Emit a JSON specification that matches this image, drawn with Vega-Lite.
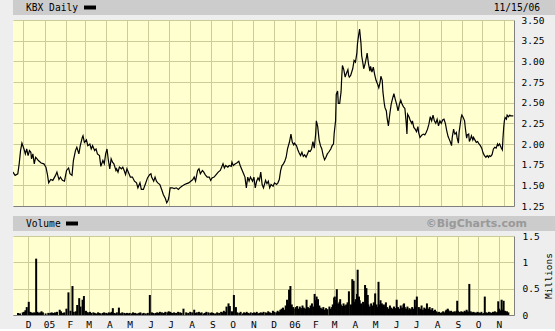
{
  "$schema": "https://vega.github.io/schema/vega-lite/v6.json",
  "background": "#eeeeee",
  "padding": 0,
  "columns": 1,
  "align": "none",
  "spacing": 0,
  "bounds": "full",
  "config": {
    "view": {"stroke": null},
    "axis": {"labelFont": "DejaVu Sans Mono", "labelFontSize": 9.5, "labelColor": "#000000", "titleFont": "DejaVu Sans Mono", "titleFontSize": 9.5, "titleFontWeight": "normal", "titleColor": "#000000"}
  },
  "datasets": {
    "kbx": [
      {"d":"2004-11-16","p":1.66,"v":0.04},{"d":"2004-11-19","p":1.62,"v":0.03},{"d":"2004-11-23","p":1.64,"v":0.05},{"d":"2004-11-25","p":1.76,"v":0.06},{"d":"2004-11-27","p":1.92,"v":0.09},{"d":"2004-11-29","p":2.01,"v":0.15},
      {"d":"2004-12-02","p":1.94,"v":0.25},{"d":"2004-12-04","p":1.88,"v":0.06},{"d":"2004-12-06","p":1.94,"v":0.05},{"d":"2004-12-08","p":1.86,"v":0.04},{"d":"2004-12-10","p":1.92,"v":0.05},{"d":"2004-12-12","p":1.90,"v":0.04},{"d":"2004-12-13","p":1.82,"v":1.07},{"d":"2004-12-15","p":1.88,"v":0.06},{"d":"2004-12-17","p":1.76,"v":0.04},{"d":"2004-12-19","p":1.84,"v":0.05},{"d":"2004-12-21","p":1.82,"v":0.07},{"d":"2004-12-23","p":1.80,"v":0.05},{"d":"2004-12-27","p":1.77,"v":0.03},{"d":"2004-12-31","p":1.76,"v":0.04},
      {"d":"2005-01-03","p":1.72,"v":0.04},{"d":"2005-01-05","p":1.64,"v":0.05},{"d":"2005-01-07","p":1.53,"v":0.04},{"d":"2005-01-10","p":1.57,"v":0.05},{"d":"2005-01-13","p":1.56,"v":0.06},{"d":"2005-01-17","p":1.62,"v":0.10},{"d":"2005-01-19","p":1.66,"v":0.07},{"d":"2005-01-22","p":1.57,"v":0.04},{"d":"2005-01-24","p":1.60,"v":0.05},{"d":"2005-01-27","p":1.56,"v":0.12},{"d":"2005-01-30","p":1.55,"v":0.43},
      {"d":"2005-02-02","p":1.68,"v":0.08},{"d":"2005-02-05","p":1.71,"v":0.55},{"d":"2005-02-07","p":1.64,"v":0.06},{"d":"2005-02-10","p":1.62,"v":0.07},{"d":"2005-02-12","p":1.80,"v":0.19},{"d":"2005-02-15","p":1.92,"v":0.32},{"d":"2005-02-17","p":1.96,"v":0.16},{"d":"2005-02-20","p":1.88,"v":0.29},{"d":"2005-02-22","p":1.98,"v":0.36},{"d":"2005-02-25","p":2.08,"v":0.08},{"d":"2005-02-26","p":2.10,"v":0.06},{"d":"2005-02-28","p":2.02,"v":0.05},
      {"d":"2005-03-03","p":2.05,"v":0.06},{"d":"2005-03-05","p":1.98,"v":0.04},{"d":"2005-03-08","p":2.00,"v":0.05},{"d":"2005-03-10","p":1.94,"v":0.04},{"d":"2005-03-12","p":1.98,"v":0.03},{"d":"2005-03-15","p":1.92,"v":0.05},{"d":"2005-03-17","p":1.94,"v":0.04},{"d":"2005-03-19","p":1.88,"v":0.03},{"d":"2005-03-22","p":1.86,"v":0.04},{"d":"2005-03-24","p":1.73,"v":0.05},{"d":"2005-03-27","p":1.80,"v":0.04},{"d":"2005-03-29","p":1.76,"v":0.03},{"d":"2005-03-31","p":1.88,"v":0.05},
      {"d":"2005-04-02","p":1.94,"v":0.04},{"d":"2005-04-04","p":1.80,"v":0.06},{"d":"2005-04-06","p":1.70,"v":0.13},{"d":"2005-04-08","p":1.82,"v":0.04},{"d":"2005-04-10","p":1.78,"v":0.03},{"d":"2005-04-12","p":1.76,"v":0.05},{"d":"2005-04-15","p":1.68,"v":0.14},{"d":"2005-04-16","p":1.70,"v":0.04},{"d":"2005-04-18","p":1.66,"v":0.03},{"d":"2005-04-20","p":1.72,"v":0.05},{"d":"2005-04-23","p":1.70,"v":0.04},{"d":"2005-04-25","p":1.72,"v":0.03},{"d":"2005-04-27","p":1.68,"v":0.04},{"d":"2005-04-29","p":1.63,"v":0.03},
      {"d":"2005-05-01","p":1.70,"v":0.04},{"d":"2005-05-04","p":1.64,"v":0.03},{"d":"2005-05-06","p":1.60,"v":0.05},{"d":"2005-05-09","p":1.60,"v":0.04},{"d":"2005-05-12","p":1.55,"v":0.03},{"d":"2005-05-15","p":1.53,"v":0.04},{"d":"2005-05-17","p":1.47,"v":0.05},{"d":"2005-05-20","p":1.53,"v":0.03},{"d":"2005-05-22","p":1.45,"v":0.04},{"d":"2005-05-25","p":1.45,"v":0.03},{"d":"2005-05-28","p":1.52,"v":0.04},{"d":"2005-05-31","p":1.59,"v":0.38},
      {"d":"2005-06-03","p":1.63,"v":0.05},{"d":"2005-06-05","p":1.64,"v":0.04},{"d":"2005-06-06","p":1.60,"v":0.03},{"d":"2005-06-09","p":1.55,"v":0.04},{"d":"2005-06-11","p":1.60,"v":0.05},{"d":"2005-06-13","p":1.55,"v":0.04},{"d":"2005-06-15","p":1.53,"v":0.06},{"d":"2005-06-18","p":1.51,"v":0.05},{"d":"2005-06-21","p":1.44,"v":0.04},{"d":"2005-06-23","p":1.39,"v":0.06},{"d":"2005-06-26","p":1.34,"v":0.05},{"d":"2005-06-28","p":1.29,"v":0.07},{"d":"2005-06-30","p":1.32,"v":0.06},
      {"d":"2005-07-01","p":1.35,"v":0.05},{"d":"2005-07-03","p":1.47,"v":0.04},{"d":"2005-07-06","p":1.47,"v":0.05},{"d":"2005-07-09","p":1.46,"v":0.04},{"d":"2005-07-12","p":1.47,"v":0.06},{"d":"2005-07-15","p":1.45,"v":0.05},{"d":"2005-07-17","p":1.47,"v":0.04},{"d":"2005-07-20","p":1.49,"v":0.12},{"d":"2005-07-24","p":1.51,"v":0.05},{"d":"2005-07-27","p":1.52,"v":0.04},{"d":"2005-07-30","p":1.53,"v":0.06},
      {"d":"2005-08-02","p":1.55,"v":0.05},{"d":"2005-08-05","p":1.57,"v":0.10},{"d":"2005-08-07","p":1.60,"v":0.04},{"d":"2005-08-09","p":1.55,"v":0.05},{"d":"2005-08-12","p":1.68,"v":0.06},{"d":"2005-08-14","p":1.70,"v":0.04},{"d":"2005-08-16","p":1.64,"v":0.05},{"d":"2005-08-19","p":1.68,"v":0.03},{"d":"2005-08-21","p":1.66,"v":0.04},{"d":"2005-08-23","p":1.63,"v":0.06},{"d":"2005-08-26","p":1.60,"v":0.05},{"d":"2005-08-29","p":1.60,"v":0.04},{"d":"2005-08-31","p":1.56,"v":0.05},
      {"d":"2005-09-02","p":1.59,"v":0.04},{"d":"2005-09-05","p":1.60,"v":0.03},{"d":"2005-09-08","p":1.63,"v":0.05},{"d":"2005-09-11","p":1.66,"v":0.04},{"d":"2005-09-14","p":1.68,"v":0.06},{"d":"2005-09-16","p":1.72,"v":0.05},{"d":"2005-09-18","p":1.76,"v":0.08},{"d":"2005-09-20","p":1.71,"v":0.06},{"d":"2005-09-22","p":1.74,"v":0.16},{"d":"2005-09-25","p":1.72,"v":0.22},{"d":"2005-09-27","p":1.74,"v":0.17},{"d":"2005-09-30","p":1.73,"v":0.07},
      {"d":"2005-10-01","p":1.78,"v":0.06},{"d":"2005-10-03","p":1.74,"v":0.38},{"d":"2005-10-06","p":1.76,"v":0.15},{"d":"2005-10-08","p":1.77,"v":0.05},{"d":"2005-10-11","p":1.79,"v":0.04},{"d":"2005-10-13","p":1.74,"v":0.06},{"d":"2005-10-16","p":1.68,"v":0.03},{"d":"2005-10-18","p":1.64,"v":0.05},{"d":"2005-10-20","p":1.60,"v":0.04},{"d":"2005-10-22","p":1.47,"v":0.06},{"d":"2005-10-24","p":1.60,"v":0.04},{"d":"2005-10-26","p":1.55,"v":0.03},{"d":"2005-10-28","p":1.60,"v":0.05},{"d":"2005-10-31","p":1.55,"v":0.04},
      {"d":"2005-11-02","p":1.60,"v":0.05},{"d":"2005-11-04","p":1.47,"v":0.04},{"d":"2005-11-06","p":1.55,"v":0.06},{"d":"2005-11-08","p":1.59,"v":0.03},{"d":"2005-11-10","p":1.56,"v":0.04},{"d":"2005-11-12","p":1.66,"v":0.05},{"d":"2005-11-14","p":1.51,"v":0.04},{"d":"2005-11-16","p":1.47,"v":0.06},{"d":"2005-11-19","p":1.56,"v":0.05},{"d":"2005-11-21","p":1.52,"v":0.04},{"d":"2005-11-23","p":1.55,"v":0.07},{"d":"2005-11-25","p":1.47,"v":0.05},{"d":"2005-11-27","p":1.51,"v":0.04},{"d":"2005-11-30","p":1.49,"v":0.08},
      {"d":"2005-12-02","p":1.53,"v":0.06},{"d":"2005-12-05","p":1.51,"v":0.05},{"d":"2005-12-07","p":1.53,"v":0.08},{"d":"2005-12-09","p":1.57,"v":0.06},{"d":"2005-12-11","p":1.68,"v":0.10},{"d":"2005-12-13","p":1.74,"v":0.12},{"d":"2005-12-15","p":1.76,"v":0.14},{"d":"2005-12-17","p":1.79,"v":0.10},{"d":"2005-12-19","p":1.84,"v":0.18},{"d":"2005-12-21","p":1.94,"v":0.29},{"d":"2005-12-23","p":2.00,"v":0.22},{"d":"2005-12-24","p":2.03,"v":0.48},{"d":"2005-12-26","p":2.12,"v":0.55},{"d":"2005-12-28","p":2.02,"v":0.20},{"d":"2005-12-30","p":1.99,"v":0.15},{"d":"2005-12-31","p":2.01,"v":0.12},
      {"d":"2006-01-03","p":1.98,"v":0.15},{"d":"2006-01-05","p":1.93,"v":0.17},{"d":"2006-01-07","p":1.89,"v":0.12},{"d":"2006-01-09","p":1.86,"v":0.16},{"d":"2006-01-11","p":1.90,"v":0.13},{"d":"2006-01-13","p":1.85,"v":0.18},{"d":"2006-01-15","p":1.87,"v":0.14},{"d":"2006-01-17","p":1.84,"v":0.12},{"d":"2006-01-19","p":1.88,"v":0.29},{"d":"2006-01-21","p":1.92,"v":0.15},{"d":"2006-01-23","p":1.91,"v":0.13},{"d":"2006-01-25","p":1.94,"v":0.18},{"d":"2006-01-27","p":2.03,"v":0.22},{"d":"2006-01-29","p":1.95,"v":0.16},{"d":"2006-01-31","p":2.12,"v":0.40},
      {"d":"2006-02-01","p":2.28,"v":0.28},{"d":"2006-02-03","p":2.21,"v":0.35},{"d":"2006-02-05","p":2.05,"v":0.30},{"d":"2006-02-07","p":1.98,"v":0.18},{"d":"2006-02-09","p":1.94,"v":0.14},{"d":"2006-02-11","p":1.86,"v":0.12},{"d":"2006-02-13","p":1.81,"v":0.15},{"d":"2006-02-15","p":1.84,"v":0.10},{"d":"2006-02-17","p":1.88,"v":0.13},{"d":"2006-02-19","p":1.90,"v":0.11},{"d":"2006-02-22","p":1.94,"v":0.16},{"d":"2006-02-24","p":1.98,"v":0.12},{"d":"2006-02-26","p":2.00,"v":0.15},{"d":"2006-02-27","p":2.13,"v":0.20},
      {"d":"2006-03-01","p":2.28,"v":0.33},{"d":"2006-03-02","p":2.60,"v":0.35},{"d":"2006-03-04","p":2.64,"v":0.28},{"d":"2006-03-05","p":2.49,"v":0.49},{"d":"2006-03-07","p":2.49,"v":0.22},{"d":"2006-03-09","p":2.63,"v":0.25},{"d":"2006-03-10","p":2.81,"v":0.30},{"d":"2006-03-11","p":2.95,"v":0.20},{"d":"2006-03-13","p":2.90,"v":0.17},{"d":"2006-03-15","p":2.81,"v":0.22},{"d":"2006-03-17","p":2.86,"v":0.18},{"d":"2006-03-19","p":2.90,"v":0.20},{"d":"2006-03-20","p":2.83,"v":0.16},{"d":"2006-03-21","p":2.81,"v":0.24},{"d":"2006-03-23","p":2.83,"v":0.45},{"d":"2006-03-26","p":2.91,"v":0.20},{"d":"2006-03-28","p":3.01,"v":0.68},{"d":"2006-03-30","p":2.99,"v":0.65},
      {"d":"2006-04-01","p":3.10,"v":0.25},{"d":"2006-04-02","p":3.22,"v":0.30},{"d":"2006-04-04","p":3.34,"v":0.40},{"d":"2006-04-05","p":3.39,"v":0.86},{"d":"2006-04-07","p":3.22,"v":0.35},{"d":"2006-04-08","p":3.07,"v":0.28},{"d":"2006-04-10","p":2.97,"v":0.22},{"d":"2006-04-11","p":2.91,"v":0.18},{"d":"2006-04-13","p":2.97,"v":0.25},{"d":"2006-04-15","p":3.05,"v":0.20},{"d":"2006-04-16","p":3.10,"v":0.57},{"d":"2006-04-18","p":2.97,"v":0.51},{"d":"2006-04-20","p":2.88,"v":0.38},{"d":"2006-04-21","p":2.94,"v":0.20},{"d":"2006-04-23","p":2.87,"v":0.16},{"d":"2006-04-25","p":2.93,"v":0.22},{"d":"2006-04-27","p":2.84,"v":0.18},{"d":"2006-04-29","p":2.77,"v":0.24},
      {"d":"2006-05-01","p":2.73,"v":0.41},{"d":"2006-05-03","p":2.68,"v":0.20},{"d":"2006-05-05","p":2.75,"v":0.15},{"d":"2006-05-06","p":2.82,"v":0.63},{"d":"2006-05-08","p":2.77,"v":0.20},{"d":"2006-05-09","p":2.63,"v":0.28},{"d":"2006-05-11","p":2.49,"v":0.22},{"d":"2006-05-12","p":2.44,"v":0.18},{"d":"2006-05-14","p":2.40,"v":0.20},{"d":"2006-05-15","p":2.32,"v":0.16},{"d":"2006-05-17","p":2.22,"v":0.24},{"d":"2006-05-19","p":2.36,"v":0.15},{"d":"2006-05-21","p":2.48,"v":0.12},{"d":"2006-05-23","p":2.55,"v":0.18},{"d":"2006-05-25","p":2.61,"v":0.14},{"d":"2006-05-27","p":2.54,"v":0.12},{"d":"2006-05-29","p":2.48,"v":0.16},{"d":"2006-05-31","p":2.40,"v":0.13},
      {"d":"2006-06-02","p":2.48,"v":0.29},{"d":"2006-06-04","p":2.53,"v":0.15},{"d":"2006-06-06","p":2.48,"v":0.12},{"d":"2006-06-08","p":2.45,"v":0.18},{"d":"2006-06-10","p":2.43,"v":0.14},{"d":"2006-06-12","p":2.25,"v":0.20},{"d":"2006-06-13","p":2.12,"v":0.22},{"d":"2006-06-14","p":2.36,"v":0.15},{"d":"2006-06-16","p":2.33,"v":0.12},{"d":"2006-06-18","p":2.28,"v":0.16},{"d":"2006-06-20","p":2.25,"v":0.10},{"d":"2006-06-21","p":2.28,"v":0.13},{"d":"2006-06-23","p":2.20,"v":0.11},{"d":"2006-06-25","p":2.18,"v":0.15},{"d":"2006-06-27","p":2.15,"v":0.12},{"d":"2006-06-29","p":2.21,"v":0.29},{"d":"2006-06-30","p":2.14,"v":0.16},
      {"d":"2006-07-02","p":2.08,"v":0.35},{"d":"2006-07-05","p":2.11,"v":0.15},{"d":"2006-07-07","p":2.12,"v":0.12},{"d":"2006-07-09","p":2.11,"v":0.18},{"d":"2006-07-11","p":2.14,"v":0.10},{"d":"2006-07-13","p":2.18,"v":0.14},{"d":"2006-07-15","p":2.24,"v":0.12},{"d":"2006-07-17","p":2.33,"v":0.22},{"d":"2006-07-19","p":2.28,"v":0.12},{"d":"2006-07-21","p":2.35,"v":0.15},{"d":"2006-07-23","p":2.28,"v":0.10},{"d":"2006-07-25","p":2.25,"v":0.13},{"d":"2006-07-27","p":2.30,"v":0.08},{"d":"2006-07-29","p":2.22,"v":0.10},{"d":"2006-07-31","p":2.28,"v":0.07},
      {"d":"2006-08-02","p":2.25,"v":0.05},{"d":"2006-08-04","p":2.29,"v":0.06},{"d":"2006-08-06","p":2.30,"v":0.04},{"d":"2006-08-08","p":2.25,"v":0.05},{"d":"2006-08-10","p":2.16,"v":0.07},{"d":"2006-08-12","p":2.09,"v":0.05},{"d":"2006-08-14","p":2.05,"v":0.08},{"d":"2006-08-15","p":2.03,"v":0.10},{"d":"2006-08-17","p":1.98,"v":0.12},{"d":"2006-08-18","p":2.08,"v":0.09},{"d":"2006-08-20","p":2.18,"v":0.07},{"d":"2006-08-21","p":2.14,"v":0.06},{"d":"2006-08-22","p":2.12,"v":0.08},{"d":"2006-08-24","p":2.14,"v":0.05},{"d":"2006-08-25","p":2.08,"v":0.06},{"d":"2006-08-27","p":2.01,"v":0.07},{"d":"2006-08-28","p":2.14,"v":0.05},{"d":"2006-08-30","p":2.26,"v":0.08},{"d":"2006-08-31","p":2.32,"v":0.27},
      {"d":"2006-09-01","p":2.35,"v":0.08},{"d":"2006-09-03","p":2.32,"v":0.06},{"d":"2006-09-05","p":2.28,"v":0.05},{"d":"2006-09-06","p":2.20,"v":0.07},{"d":"2006-09-08","p":2.07,"v":0.06},{"d":"2006-09-09","p":2.11,"v":0.05},{"d":"2006-09-11","p":2.12,"v":0.08},{"d":"2006-09-12","p":2.03,"v":0.06},{"d":"2006-09-14","p":2.07,"v":0.10},{"d":"2006-09-15","p":2.10,"v":0.07},{"d":"2006-09-17","p":2.05,"v":0.06},{"d":"2006-09-18","p":2.08,"v":0.59},{"d":"2006-09-20","p":2.05,"v":0.07},{"d":"2006-09-22","p":2.02,"v":0.05},{"d":"2006-09-24","p":2.03,"v":0.06},{"d":"2006-09-26","p":2.00,"v":0.05},{"d":"2006-09-28","p":1.98,"v":0.04},{"d":"2006-09-30","p":1.95,"v":0.06},
      {"d":"2006-10-02","p":1.89,"v":0.05},{"d":"2006-10-04","p":1.86,"v":0.04},{"d":"2006-10-06","p":1.84,"v":0.06},{"d":"2006-10-08","p":1.86,"v":0.03},{"d":"2006-10-10","p":1.84,"v":0.04},{"d":"2006-10-11","p":1.86,"v":0.35},{"d":"2006-10-13","p":1.85,"v":0.05},{"d":"2006-10-15","p":1.87,"v":0.04},{"d":"2006-10-17","p":1.94,"v":0.06},{"d":"2006-10-19","p":1.96,"v":0.05},{"d":"2006-10-21","p":1.95,"v":0.04},{"d":"2006-10-23","p":2.00,"v":0.06},{"d":"2006-10-24","p":1.98,"v":0.05},{"d":"2006-10-26","p":2.00,"v":0.07},{"d":"2006-10-28","p":1.96,"v":0.05},{"d":"2006-10-30","p":1.93,"v":0.06},{"d":"2006-10-31","p":2.08,"v":0.26},
      {"d":"2006-11-01","p":2.20,"v":0.12},{"d":"2006-11-02","p":2.28,"v":0.10},{"d":"2006-11-03","p":2.32,"v":0.08},{"d":"2006-11-05","p":2.30,"v":0.29},{"d":"2006-11-06","p":2.35,"v":0.10},{"d":"2006-11-08","p":2.33,"v":0.27},{"d":"2006-11-10","p":2.35,"v":0.08},{"d":"2006-11-11","p":2.34,"v":0.06},{"d":"2006-11-13","p":2.34,"v":0.07},{"d":"2006-11-15","p":2.34,"v":0.05}
    ]
  },
  "concat": [
    {
      "width": 555, "height": 15,
      "view": {"fill": "#cccccc", "stroke": null},
      "encoding": {"x": {"field": "pos", "type": "quantitative", "scale": {"domain": [0, 1], "nice": false, "zero": false}, "axis": null}},
      "layer": [
        {"data": {"values": [{"pos": 0, "label": "KBX Daily"}]}, "mark": {"type": "text", "align": "left", "baseline": "middle", "dx": 13, "font": "DejaVu Sans Mono", "fontSize": 9.6, "color": "#000000"}, "encoding": {"text": {"field": "label"}}},
        {"data": {"values": [{"pos": 0}]}, "mark": {"type": "point", "shape": "M-1,-0.33L1,-0.33L1,0.33L-1,0.33Z", "size": 144, "filled": true, "color": "#000000", "opacity": 1, "strokeWidth": 0, "xOffset": 77}},
        {"data": {"values": [{"pos": 0, "label": "11/15/06"}]}, "mark": {"type": "text", "align": "right", "baseline": "middle", "dx": 527, "font": "DejaVu Sans Mono", "fontSize": 9.6, "color": "#000000"}, "encoding": {"text": {"field": "label"}}}
      ]
    },
    {
      "width": 501, "height": 186,
      "view": {"fill": "#ffffd0", "stroke": null},
      "data": {"name": "kbx"},
      "encoding": {
        "x": {"field": "d", "type": "temporal",
          "scale": {"type": "utc", "domain": [{"year": 2004, "month": 11, "date": 16, "utc": true}, {"year": 2006, "month": 11, "date": 16, "utc": true}]},
          "axis": {"orient": "bottom", "title": null, "labels": false, "ticks": true, "tickSize": 10, "tickOpacity": 0, "grid": true, "gridColor": "#cccc99", "gridOpacity": 1, "domain": true, "domainColor": "#808080",
            "values": [{"year":2004,"month":12,"date":1,"utc":true},{"year":2005,"month":1,"date":1,"utc":true},{"year":2005,"month":2,"date":1,"utc":true},{"year":2005,"month":3,"date":1,"utc":true},{"year":2005,"month":4,"date":1,"utc":true},{"year":2005,"month":5,"date":1,"utc":true},{"year":2005,"month":6,"date":1,"utc":true},{"year":2005,"month":7,"date":1,"utc":true},{"year":2005,"month":8,"date":1,"utc":true},{"year":2005,"month":9,"date":1,"utc":true},{"year":2005,"month":10,"date":1,"utc":true},{"year":2005,"month":11,"date":1,"utc":true},{"year":2005,"month":12,"date":1,"utc":true},{"year":2006,"month":1,"date":1,"utc":true},{"year":2006,"month":2,"date":1,"utc":true},{"year":2006,"month":3,"date":1,"utc":true},{"year":2006,"month":4,"date":1,"utc":true},{"year":2006,"month":5,"date":1,"utc":true},{"year":2006,"month":6,"date":1,"utc":true},{"year":2006,"month":7,"date":1,"utc":true},{"year":2006,"month":8,"date":1,"utc":true},{"year":2006,"month":9,"date":1,"utc":true},{"year":2006,"month":10,"date":1,"utc":true},{"year":2006,"month":11,"date":1,"utc":true}]}}
      },
      "layer": [
        {"mark": {"type": "line", "color": "#000000", "strokeWidth": 1.2, "clip": true},
         "encoding": {"y": {"field": "p", "type": "quantitative", "scale": {"domain": [1.25, 3.5], "nice": false, "zero": false},
           "axis": {"orient": "right", "title": null, "values": [1.25, 1.5, 1.75, 2, 2.25, 2.5, 2.75, 3, 3.25, 3.5], "format": ".2f", "grid": false, "ticks": false, "labelPadding": 7, "domain": true, "domainColor": "#808080", "labelOverlap": false}}}},
        {"mark": {"type": "line", "opacity": 0, "strokeOpacity": 0},
         "encoding": {"y": {"field": "p", "type": "quantitative",
           "axis": {"orient": "left", "title": null, "values": [1.25, 1.5, 1.75, 2, 2.25, 2.5, 2.75, 3, 3.25, 3.5], "labels": false, "ticks": true, "tickSize": 13, "tickOpacity": 0, "domain": false, "grid": true, "gridColor": "#cccc99", "gridOpacity": 1}}}}
      ],
      "resolve": {"axis": {"y": "independent"}}
    },
    {
      "width": 555, "height": 15,
      "view": {"fill": "#cccccc", "stroke": null},
      "encoding": {"x": {"field": "pos", "type": "quantitative", "scale": {"domain": [0, 1], "nice": false, "zero": false}, "axis": null}},
      "layer": [
        {"data": {"values": [{"pos": 0, "label": "Volume"}]}, "mark": {"type": "text", "align": "left", "baseline": "middle", "dx": 13, "font": "DejaVu Sans Mono", "fontSize": 9.6, "color": "#000000"}, "encoding": {"text": {"field": "label"}}},
        {"data": {"values": [{"pos": 0}]}, "mark": {"type": "point", "shape": "M-1,-0.33L1,-0.33L1,0.33L-1,0.33Z", "size": 144, "filled": true, "color": "#000000", "opacity": 1, "strokeWidth": 0, "xOffset": 59}},
        {"data": {"values": [{"pos": 0, "label": "©BigCharts.com"}]}, "mark": {"type": "text", "align": "right", "baseline": "middle", "dx": 514, "font": "DejaVu Sans", "fontWeight": "bold", "fontSize": 11, "color": "#999999"}, "encoding": {"text": {"field": "label"}}}
      ]
    },
    {
      "width": 501, "height": 79,
      "view": {"fill": "#ffffd0", "stroke": null},
      "data": {"name": "kbx"},
      "encoding": {
        "x": {"field": "d", "type": "temporal",
          "scale": {"type": "utc", "domain": [{"year": 2004, "month": 11, "date": 16, "utc": true}, {"year": 2006, "month": 11, "date": 16, "utc": true}]},
          "axis": {"orient": "bottom", "title": null, "ticks": false, "labelPadding": 4, "labelFlush": false, "labelOverlap": false, "grid": true, "gridColor": "#cccc99", "gridOpacity": 1, "domain": true, "domainColor": "#808080",
            "labelExpr": "utcFormat(datum.value, '%m') == '01' ? utcFormat(datum.value, '%y') : slice(utcFormat(datum.value, '%b'), 0, 1)",
            "values": [{"year":2004,"month":12,"date":1,"utc":true},{"year":2005,"month":1,"date":1,"utc":true},{"year":2005,"month":2,"date":1,"utc":true},{"year":2005,"month":3,"date":1,"utc":true},{"year":2005,"month":4,"date":1,"utc":true},{"year":2005,"month":5,"date":1,"utc":true},{"year":2005,"month":6,"date":1,"utc":true},{"year":2005,"month":7,"date":1,"utc":true},{"year":2005,"month":8,"date":1,"utc":true},{"year":2005,"month":9,"date":1,"utc":true},{"year":2005,"month":10,"date":1,"utc":true},{"year":2005,"month":11,"date":1,"utc":true},{"year":2005,"month":12,"date":1,"utc":true},{"year":2006,"month":1,"date":1,"utc":true},{"year":2006,"month":2,"date":1,"utc":true},{"year":2006,"month":3,"date":1,"utc":true},{"year":2006,"month":4,"date":1,"utc":true},{"year":2006,"month":5,"date":1,"utc":true},{"year":2006,"month":6,"date":1,"utc":true},{"year":2006,"month":7,"date":1,"utc":true},{"year":2006,"month":8,"date":1,"utc":true},{"year":2006,"month":9,"date":1,"utc":true},{"year":2006,"month":10,"date":1,"utc":true},{"year":2006,"month":11,"date":1,"utc":true}]}}
      },
      "layer": [
        {"mark": {"type": "bar", "color": "#000000", "width": 2, "clip": true},
         "encoding": {"y": {"field": "v", "type": "quantitative", "scale": {"domain": [0, 1.5], "nice": false},
           "axis": {"orient": "right", "title": "Millions", "titleAngle": 270, "titleBaseline": "top", "titlePadding": 4, "values": [0, 0.5, 1, 1.5], "format": "~g", "grid": false, "ticks": false, "labelPadding": 8, "domain": true, "domainColor": "#808080", "labelOverlap": false}}}},
        {"mark": {"type": "bar", "opacity": 0},
         "encoding": {"y": {"field": "v", "type": "quantitative",
           "axis": {"orient": "left", "title": null, "values": [0, 0.5, 1, 1.5], "labels": false, "ticks": true, "tickSize": 13, "tickOpacity": 0, "domain": false, "grid": true, "gridColor": "#cccc99", "gridOpacity": 1}}}}
      ],
      "resolve": {"axis": {"y": "independent"}}
    }
  ]
}
